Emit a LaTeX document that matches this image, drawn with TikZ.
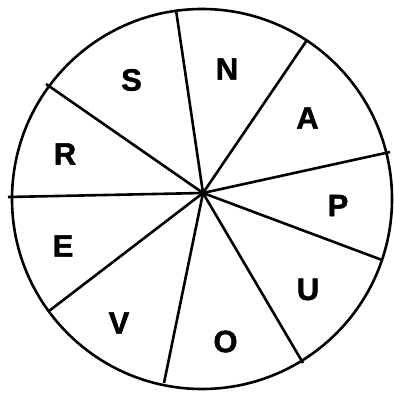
\documentclass[tikz,border=0pt]{standalone}
\usepackage{fontspec}
\setmainfont{Liberation Sans}
\newfontfamily\heavyfont{Liberation Sans Bold}[FakeBold=1.5]
\newcommand{\wheelfont}{\heavyfont\fontsize{31pt}{33pt}\selectfont}
\begin{document}
\begin{tikzpicture}[x=1pt, y=-1pt, line width=2.6pt,
    letter/.style={font=\wheelfont, inner sep=0pt}]
    \useasboundingbox (0,0) rectangle (393,395);

    % Outer wheel
    \draw (202,199) circle[radius=190];

    % Spokes from the hub
    \coordinate (hub) at (203,193);
    \foreach \x/\y [count=\i] in {176/10, 307/40, 390/152, 382/260, 303/363,
                                  164/383, 49/311, 8/197, 46/84} {
        \coordinate (rim\i) at (\x,\y);
        \draw (hub) -- (rim\i);
    }

    % Letters
    \node[letter] (s) at (131.5,80) {S};
    \node[letter] (n) at (227,69) {N};
    \node[letter] (a) at (307.5,118) {A};
    \node[letter] (p) at (338,205.5) {P};
    \node[letter] (u) at (308,289.5) {U};
    \node[letter] (o) at (225.5,341.5) {O};
    \node[letter] (v) at (119,323) {V};
    \node[letter] (e) at (63,246) {E};
    \node[letter] (r) at (65,154) {R};
\end{tikzpicture}
\end{document}
